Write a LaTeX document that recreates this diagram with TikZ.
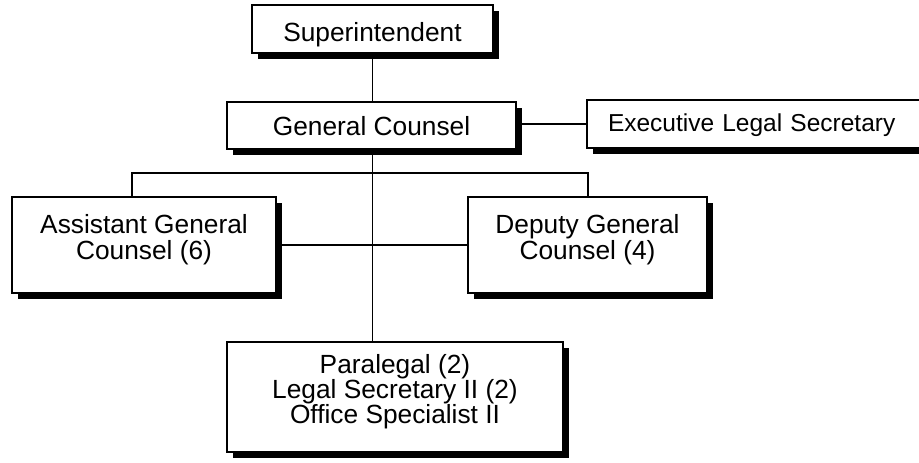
\documentclass[tikz,border=0pt]{standalone}
\usepackage{fontspec}
\setmainfont{Liberation Sans}
\usetikzlibrary{shadows}
\begin{document}
\begin{tikzpicture}[x=1pt,y=-1pt,
  box/.style={draw, line width=1.5pt, fill=white, rectangle, inner sep=0pt,
    align=center, font=\fontsize{26.3}{25.5}\selectfont,
    drop shadow={shadow xshift=5.5pt, shadow yshift=-5.5pt, fill=black, opacity=1}},
  link/.style={line width=1.6pt}]
\useasboundingbox (0,0) rectangle (919,463);
\clip (0,0) rectangle (919,463);

% boxes
\node[box, minimum width=241pt, minimum height=48pt, text height=26pt, text depth=0.4pt]
  (sup) at (372.5,29) {Superintendent};
\node[box, minimum width=289pt, minimum height=47pt, text height=19pt, text depth=0pt]
  (gc) at (371.5,125.5) {General Counsel};
\node[box, minimum width=343pt, minimum height=48pt, text height=19pt, text depth=3.6pt,
  align=left, text width=343pt, font=\fontsize{24.5}{25}\selectfont]
  (els) at (758.5,124) {\hspace*{21pt}Executive Legal Secretary};
\node[box, minimum width=264pt, minimum height=96pt, text height=33.6pt, text depth=5pt]
  (agc) at (144,245) {Assistant General\\Counsel (6)};
\node[box, minimum width=239pt, minimum height=96pt, text height=33.6pt, text depth=5pt]
  (dgc) at (587.5,245) {Deputy General\\Counsel (4)};
\node[box, minimum width=336pt, minimum height=110pt, text height=57.6pt, text depth=5pt,
  font=\fontsize{26.3}{24.7}\selectfont]
  (staff) at (395,397) {Paralegal (2)\\Legal Secretary II (2)\\Office Specialist II};

% connectors
\coordinate (bl) at (132,173);
\coordinate (br) at (588,173);
\draw[link] (sup.south) -- (gc.north -| sup.south);
\draw[link] (gc.south -| sup.south) -- (staff.north -| sup.south);
\draw[link] (els.west -| gc.east) -- (els.west);
\draw[link] (agc.north -| bl) -- (bl) -- (br) -- (dgc.north -| br);
\draw[link] (agc.east) -- (dgc.west);
\end{tikzpicture}
\end{document}
